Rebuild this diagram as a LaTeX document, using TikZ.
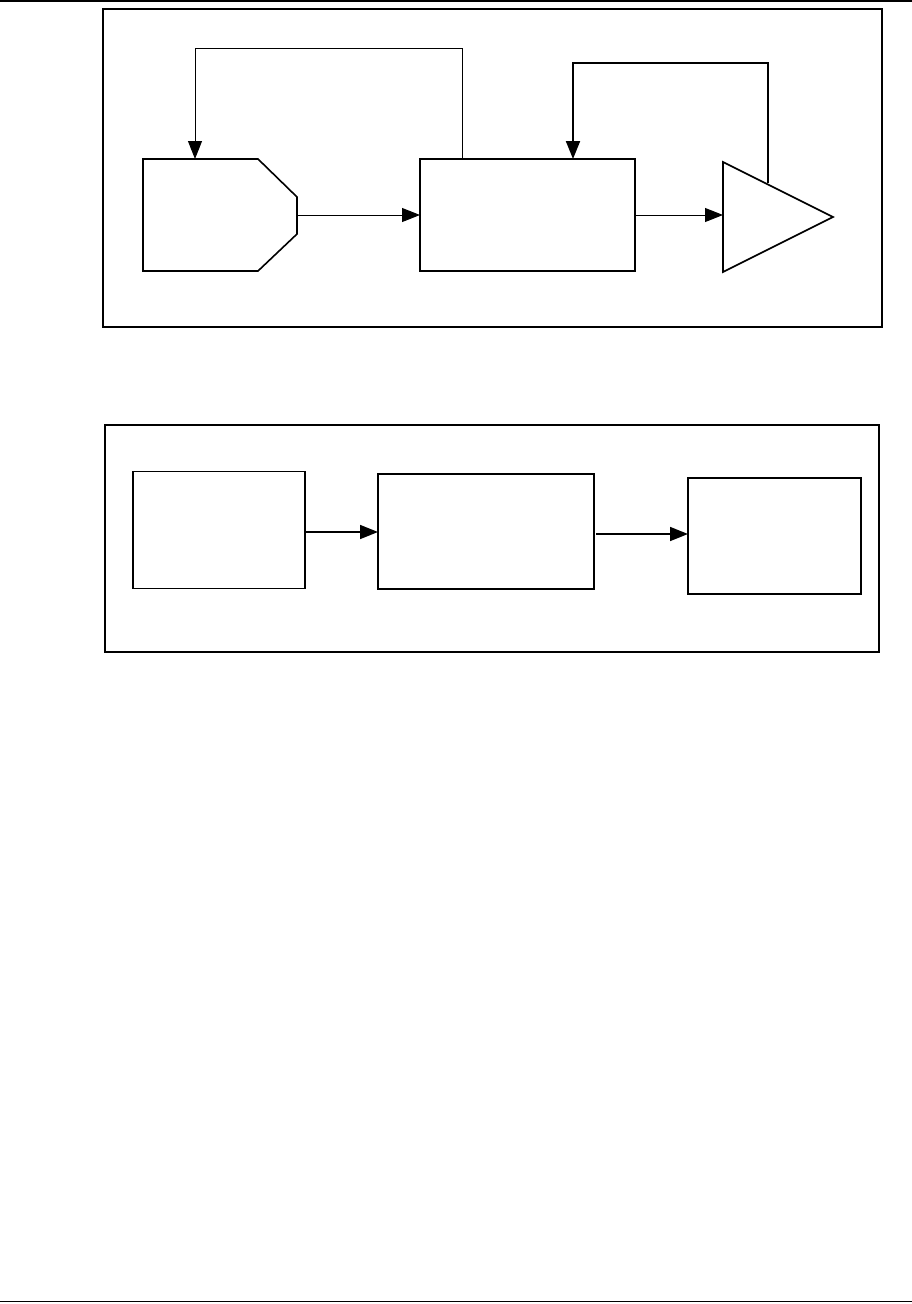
\documentclass[tikz,border=0pt]{standalone}
\usetikzlibrary{arrows.meta}
\begin{document}
\begin{tikzpicture}[x=1pt,y=-1pt,
  rule/.style={line width=1.5pt},
  frame/.style={draw, line width=2pt},
  blk/.style={draw, line width=1.6pt, inner sep=0pt, outer sep=0pt},
  tip/.style={-{Triangle[length=18pt,width=14pt]}},
  conn/.style={line width=1pt, tip},
  thickconn/.style={line width=2pt, tip}]
\useasboundingbox (0,0) rectangle (912,1304);
% page rules
\draw[rule] (0,1) -- (912,1);
\draw[rule] (0,1301.5) -- (912,1301.5);
% top frame
\draw[frame] (103,9) rectangle (882,327);
% pentagon-like source shape
\coordinate (pA) at (143,159);
\coordinate (pB) at (258,159);
\coordinate (pC) at (297,197);
\coordinate (pD) at (297,234);
\coordinate (pE) at (258,271);
\coordinate (pF) at (143,271);
\coordinate (pout) at (297,215);
\coordinate (pin) at (195,159);
\draw[line width=1.6pt, line join=miter] (pA) -- (pB) -- (pC) -- (pD) -- (pE) -- (pF) -- cycle;
% middle block
\node[blk, minimum width=215pt, minimum height=112pt] (mid) at (527.5,215) {};
% triangle
\coordinate (tA) at (723,162);
\coordinate (tB) at (833,217);
\coordinate (tC) at (723,272);
\draw[line width=1.6pt, line join=miter] (tA) -- (tB) -- (tC) -- cycle;
\coordinate (tin) at (723,215);
\coordinate (tfb) at (768,183);
% connectors
\draw[conn] (pout) -- (mid.west |- pout);
\draw[conn] (mid.east |- tin) -- (tin);
\coordinate (midtop) at (462,159);
\draw[conn] (midtop) -- (462,48) -- (195,48) -- (pin);
\coordinate (midin) at (573,159);
\draw[thickconn] (tfb) -- (768,63) -- (573,63) -- (midin);
% bottom frame
\draw[frame] (105,425) rectangle (879,652);
\node[blk, minimum width=172pt, minimum height=117pt] (ba) at (219,530) {};
\node[blk, minimum width=216pt, minimum height=115pt] (bb) at (486,531.5) {};
\node[blk, minimum width=173pt, minimum height=116pt] (bc) at (774.5,536) {};
\draw[line width=1.6pt, tip] (ba.east |- 0,532) -- (bb.west |- 0,532);
\draw[line width=1.6pt, tip] (596,534) -- (bc.west |- 0,534);
\end{tikzpicture}
\end{document}
